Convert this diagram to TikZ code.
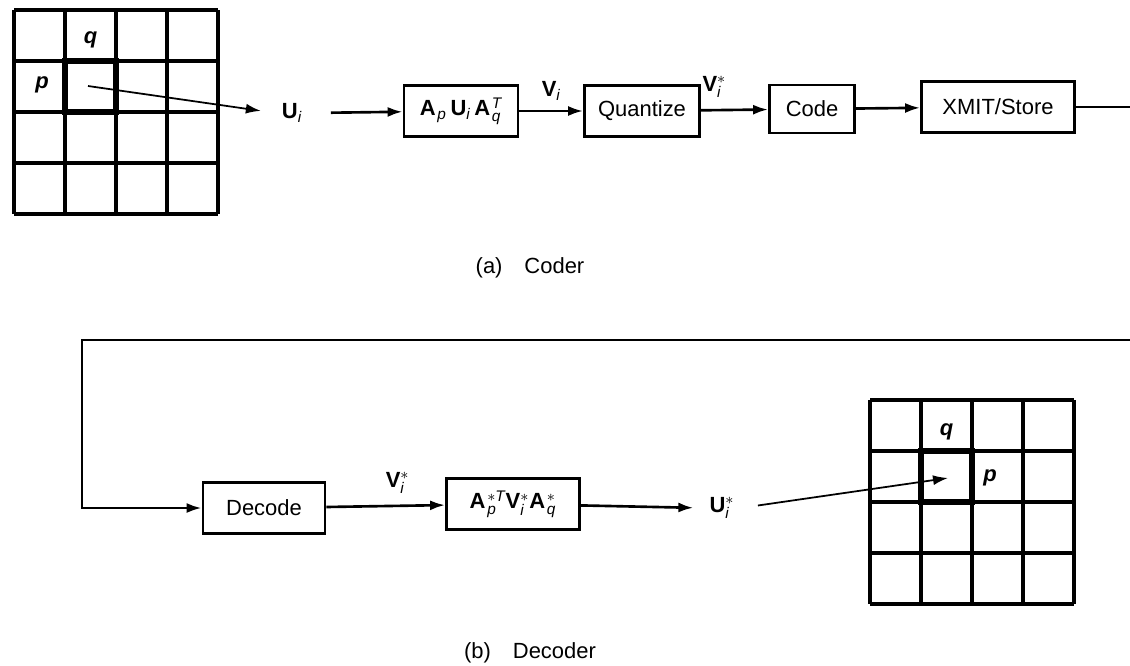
\documentclass[tikz,border=0pt]{standalone}
\usepackage{amstext}
\usepackage{fontspec}
\setmainfont{Liberation Sans}
\usetikzlibrary{arrows.meta,positioning}

\newcommand{\mvec}[1]{\textbf{#1}}
\newcommand{\ix}[1]{\textit{#1}}

\begin{document}
\begin{tikzpicture}[
    x=0.02cm, y=-0.02cm,
    >={Latex[length=3mm,width=2mm]},
    font=\fontsize{12.5}{15}\selectfont,
    blk/.style={draw, line width=1.6pt, minimum height=1.02cm, inner sep=2pt},
    flow/.style={->, line width=1.5pt},
    wire/.style={line width=1.5pt},
    ptr/.style={->, line width=1pt},
    cell/.style={line width=1.8pt},
    hot/.style={line width=3.4pt},
    idx/.style={font=\fontsize{12.5}{15}\selectfont\bfseries\itshape}
  ]
  \useasboundingbox (0,0) rectangle (1130,666);

  %% (a) coder: image blocks
  \begin{scope}[shift={(14,10)}]
    \foreach \k in {0,...,4} {
      \draw[cell] (51*\k,0) -- (51*\k,204);
      \draw[cell] (0,51*\k) -- (204,51*\k);
    }
    \draw[hot] (51,51) rectangle (102,102);
    \node[idx] (qa) at (76.5,30) {q};
    \node[idx] (pa) at (28,75) {p};
    \coordinate (srca) at (74,76);
  \end{scope}

  \node (ui) at (292,113) {\mvec{U}$_{\ix{i}}$};
  \draw[ptr, shorten >=0.3cm] (srca) -- (ui.west);

  %% coder chain
  \node[blk, minimum width=2.28cm] (fwd) at (461,111)
       {\mvec{A}\kern1pt$_{\ix{p}}$\,\mvec{U}$_{\ix{i}}$\,\mvec{A}\kern1pt$^{\ix{T}}_{\ix{q}}$};
  \draw[flow, shorten <=0.45cm] (ui.east) -- (fwd);

  \node[blk, minimum width=2.3cm] (quant) at (642,111) {Quantize};
  \draw[flow] (fwd) -- node[above, yshift=2pt] (vi) {\mvec{V}$_{\ix{i}}$} (quant);

  \node[blk, minimum width=1.7cm, minimum height=0.96cm] (code) at (812,109) {Code};
  \draw[flow] (quant) -- node[above, pos=0.2, yshift=3pt] (vsa) {\mvec{V}$^{*}_{\ix{i}}$} (code);

  \node[blk, minimum width=3.06cm] (xmit) at (998,107) {XMIT/Store};
  \draw[flow] (code) -- (xmit);
  \coordinate (outa) at (1130,107);
  \draw[wire] (xmit) -- (outa);

  \node (capa) at (530,268) {(a)\quad Coder};

  %% (b) decoder chain
  \coordinate (inb) at (1130,340);
  \coordinate (bend) at (82,340);
  \node[blk, minimum width=2.44cm] (dec) at (264,508) {Decode};
  \draw[flow] (inb) -- (bend) |- (dec);

  \node[blk, minimum width=2.66cm] (inv) at (513,504)
       {\mvec{A}\kern1pt$^{*\ix{T}}_{\ix{p}}$\mvec{V}$^{*}_{\ix{i}}$\mvec{A}\kern1pt$^{*}_{\ix{q}}$};
  \draw[flow] (dec) -- node[above, pos=0.6, yshift=3pt] (vsb) {\mvec{V}$^{*}_{\ix{i}}$} (inv);

  \node (uis) at (722,508) {\mvec{U}$^{*}_{\ix{i}}$};
  \draw[flow, shorten >=0.2cm] (inv) -- (uis.west);

  %% (b) decoder: image blocks
  \begin{scope}[shift={(870,400)}]
    \foreach \k in {0,...,4} {
      \draw[cell] (51*\k,0) -- (51*\k,204);
      \draw[cell] (0,51*\k) -- (204,51*\k);
    }
    \draw[hot] (51,51) rectangle (102,102);
    \node[idx] (qb) at (76.5,32) {q};
    \node[idx] (pb) at (120,78) {p};
    \coordinate (dstb) at (78,78);
  \end{scope}
  \draw[ptr, shorten <=0.35cm] (uis.east) -- (dstb);

  \node (capb) at (530,653) {(b)\quad Decoder};
\end{tikzpicture}
\end{document}
